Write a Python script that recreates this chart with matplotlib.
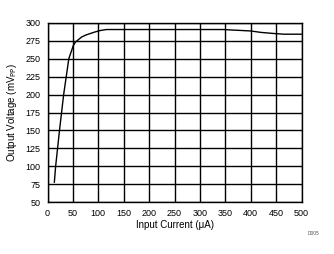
import matplotlib
matplotlib.use('Agg')
import matplotlib.pyplot as plt

plt.rcParams['font.family'] = ['Liberation Sans', 'DejaVu Sans']

# input current (uA) vs output voltage (mV)
current = [13.5, 16, 23.6, 31.8, 42, 50.7, 55, 67, 76, 93, 103, 116, 345, 400, 420, 445, 465, 500]
voltage = [78, 100, 150, 200, 250, 268, 273, 280, 283, 287, 289, 290.5, 290.5, 288.5, 286.5, 285, 284, 284]

xticks = list(range(0, 501, 50))
yticks = list(range(50, 301, 25))

fig = plt.figure(figsize=(3.34, 2.54), dpi=100)
ax = fig.add_axes([47.5 / 334, 1 - 202.3 / 254, 254 / 334, 179.6 / 254])
ax.plot(current, voltage, color='black', lw=1)
ax.set_xlim(0, 500)
ax.set_ylim(50, 300)
ax.set_xticks(xticks)
ax.set_yticks(yticks)
ax.grid(True, color='black', lw=1)
for s in ax.spines.values():
    s.set_linewidth(1)
ax.tick_params(length=0, labelsize=6.5, pad=5)
ax.set_xlabel('Input Current (\u03bcA)', fontsize=7, labelpad=1.5)
ax.set_ylabel('Output Voltage (mV$_{\\rm PP}$)', fontsize=7, labelpad=5)
fig.text(0.955, 0.075, 'D005', fontsize=3.5, color='#555555', ha='right')
fig.savefig('out.png', dpi=100)
